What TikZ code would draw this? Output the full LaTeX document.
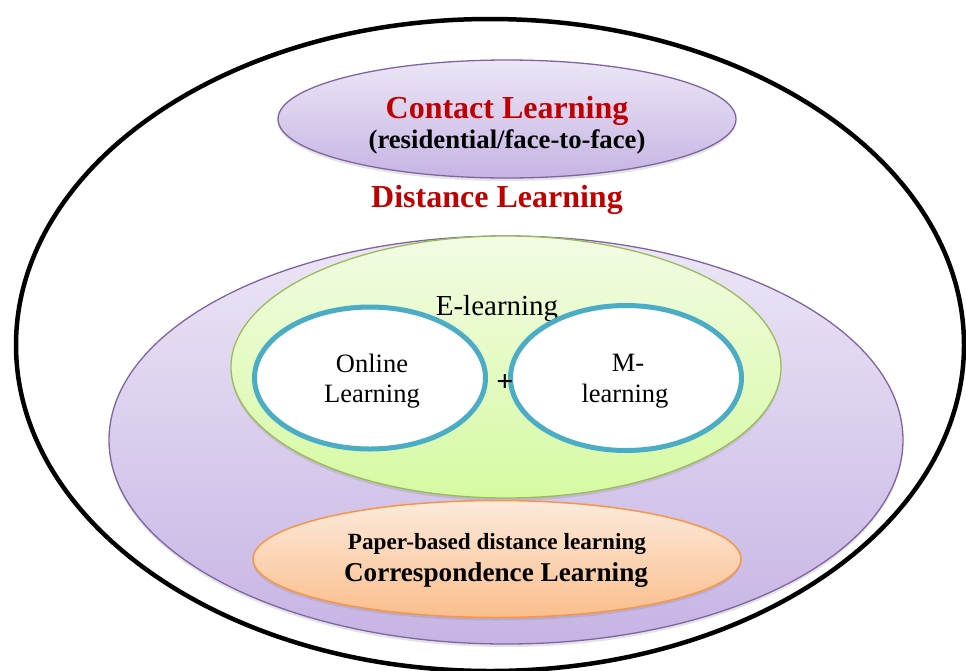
\documentclass[tikz,border=0pt]{standalone}
\usepackage{fontspec}
\setmainfont{Liberation Serif}
\usetikzlibrary{shapes.geometric,shadows}

\definecolor{dlred}{HTML}{C00000}
\definecolor{lavtop}{RGB}{236,230,246}
\definecolor{lavbot}{RGB}{198,180,228}
\definecolor{lavline}{HTML}{8064A2}
\definecolor{grtop}{RGB}{242,251,228}
\definecolor{grbot}{RGB}{214,250,162}
\definecolor{grline}{HTML}{9BBB59}
\definecolor{bluering}{HTML}{4BACC6}
\definecolor{ortop}{RGB}{253,234,220}
\definecolor{orbot}{RGB}{250,190,140}
\definecolor{orline}{HTML}{F79646}

\tikzset{
  blob/.style={ellipse, inner sep=0pt, outer sep=0pt},
  softshadow/.style={drop shadow={opacity=0.22, shadow xshift=0pt, shadow yshift=-3pt}},
  lavender/.style={blob, draw=lavline, line width=1.3pt, top color=lavtop, bottom color=lavbot, softshadow},
  greenblob/.style={blob, draw=grline, line width=1.3pt, top color=grtop, bottom color=grbot, softshadow},
  ring/.style={blob, draw=bluering, line width=5pt, fill=white},
  orangeblob/.style={blob, draw=orline, line width=1.5pt, top color=ortop, bottom color=orbot, softshadow},
  lbl/.style={inner sep=0pt, anchor=base},
}

\begin{document}
\begin{tikzpicture}[x=1pt, y=-1pt]
  \useasboundingbox (0,0) rectangle (966,670);
  \clip (0,0) rectangle (966,670);

  % outer boundary
  \node[blob, draw=black, line width=4.5pt, minimum width=948pt, minimum height=652pt] (outer) at (490,345) {};

  % distance learning region
  \node[lavender, minimum width=794pt, minimum height=408pt] (distance) at (506,440) {};

  % contact learning
  \node[lavender, minimum width=458pt, minimum height=118pt] (contact) at (507,119) {};
  \node[lbl, font=\bfseries\fontsize{32}{36}\selectfont, text=dlred] (contactT) at (507,118) {Contact Learning};
  \node[lbl, font=\bfseries\fontsize{26.7}{30}\selectfont] (contactS) at (507,148) {(residential/face-to-face)};

  \node[lbl, font=\bfseries\fontsize{32}{36}\selectfont, text=dlred] (distanceT) at (497,207) {Distance Learning};

  % e-learning
  \node[greenblob, minimum width=550pt, minimum height=262pt] (elearn) at (506,367) {};
  \node[lbl, font=\fontsize{29}{32}\selectfont] (elearnT) at (497,315) {E-learning};

  \node[ring, minimum width=231pt, minimum height=142pt] (online) at (370,378) {};
  \node[ring, minimum width=231pt, minimum height=145pt] (mobile) at (626,378) {};

  \node[lbl, font=\fontsize{26.5}{30}\selectfont] (onlineA) at (372,372) {Online};
  \node[lbl, font=\fontsize{26.5}{30}\selectfont] (onlineB) at (372,402) {Learning};
  \node[lbl, font=\fontsize{26.5}{30}\selectfont] (mobileA) at (628,371) {M-};
  \node[lbl, font=\fontsize{26.5}{30}\selectfont] (mobileB) at (625,402) {learning};
  \node[lbl, font=\bfseries\fontsize{30}{32}\selectfont] (plus) at (505,391) {+};

  % correspondence learning
  \node[orangeblob, minimum width=488pt, minimum height=117pt] (paper) at (497,559) {};
  \node[lbl, font=\bfseries\fontsize{23.2}{26}\selectfont] (paperA) at (497,549) {Paper-based distance learning};
  \node[lbl, font=\bfseries\fontsize{27.2}{30}\selectfont] (paperB) at (496,581) {Correspondence Learning};
\end{tikzpicture}
\end{document}
